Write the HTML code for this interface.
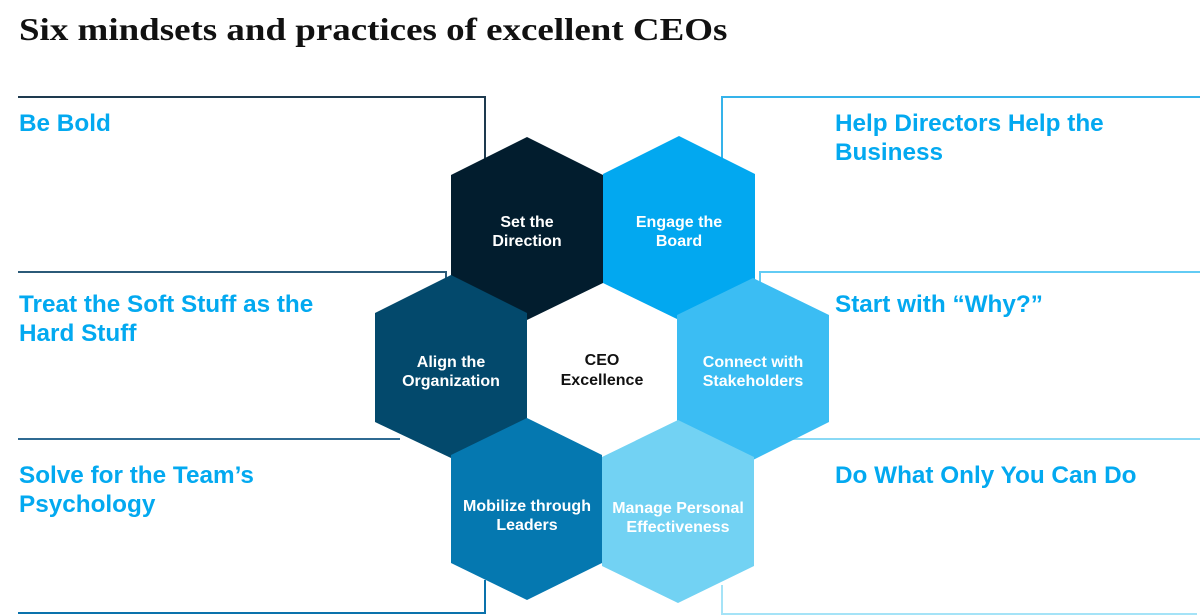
<!DOCTYPE html>
<html><head><meta charset="utf-8"><style>
body{margin:0;width:1200px;height:616px;background:#fff;overflow:hidden;position:relative;font-family:"Liberation Sans",sans-serif}
.t{position:absolute;left:19px;top:11px;font-family:"Liberation Serif",serif;font-weight:bold;font-size:32px;line-height:37px;color:#111;white-space:nowrap;transform:scaleX(1.155);transform-origin:0 0}
.l{position:absolute;font-weight:bold;font-size:24.3px;line-height:29px;color:#03a9f0;white-space:nowrap}
svg{position:absolute;left:0;top:0}
</style></head><body>
<div class="t">Six mindsets and practices of excellent CEOs</div>
<svg width="1200" height="616">
<g fill="none" stroke-width="2">
<path d="M18 97H485V160" stroke="#1e3a4f"/>
<path d="M18 272H446V290" stroke="#2b5a78"/>
<path d="M18 439H400" stroke="#2f6a92"/>
<path d="M18 613H485V580" stroke="#0a72ac"/>
<path d="M1200 97H722V160" stroke="#35b3ea"/>
<path d="M1200 272H760V290" stroke="#62cbf4"/>
<path d="M1200 439H790" stroke="#8ad9f5"/>
<path d="M1197 614H722V585" stroke="#a5e3f7"/>
</g>
<polygon points="527,137 603,175 603,283 527,320 451,283 451,175" fill="#021d2e"/>
<polygon points="679,136 755,174 755,283 679,320 603,283 603,174" fill="#02a8f0"/>
<polygon points="451,275 527,313 527,422 451,458 375,422 375,313" fill="#03496c"/>
<polygon points="753,278 829,315 829,422 753,460 677,422 677,315" fill="#3bbdf3"/>
<polygon points="527,418 602,455 602,563 527,600 451,563 451,455" fill="#0578b0"/>
<polygon points="678,420 754,457 754,566 678,603 602,566 602,457" fill="#72d2f3"/>
<g font-family="Liberation Sans,sans-serif" font-weight="bold" font-size="16" fill="#fff" text-anchor="middle">
<text x="527" y="227">Set the</text><text x="527" y="246">Direction</text>
<text x="679" y="227">Engage the</text><text x="679" y="246">Board</text>
<text x="451" y="367">Align the</text><text x="451" y="386">Organization</text>
<text x="753" y="367">Connect with</text><text x="753" y="386">Stakeholders</text>
<text x="527" y="511">Mobilize through</text><text x="527" y="530">Leaders</text>
<text x="678" y="513">Manage Personal</text><text x="678" y="532">Effectiveness</text>
<text x="602" y="365" fill="#111">CEO</text><text x="602" y="385" fill="#111">Excellence</text>
</g>
</svg>
<div class="l" style="left:19px;top:109px">Be Bold</div>
<div class="l" style="left:19px;top:290px">Treat the Soft Stuff as the<br>Hard Stuff</div>
<div class="l" style="left:19px;top:461px">Solve for the Team’s<br>Psychology</div>
<div class="l" style="left:835px;top:109px">Help Directors Help the<br>Business</div>
<div class="l" style="left:835px;top:290px">Start with “Why?”</div>
<div class="l" style="left:835px;top:461px">Do What Only You Can Do</div>
</body></html>
